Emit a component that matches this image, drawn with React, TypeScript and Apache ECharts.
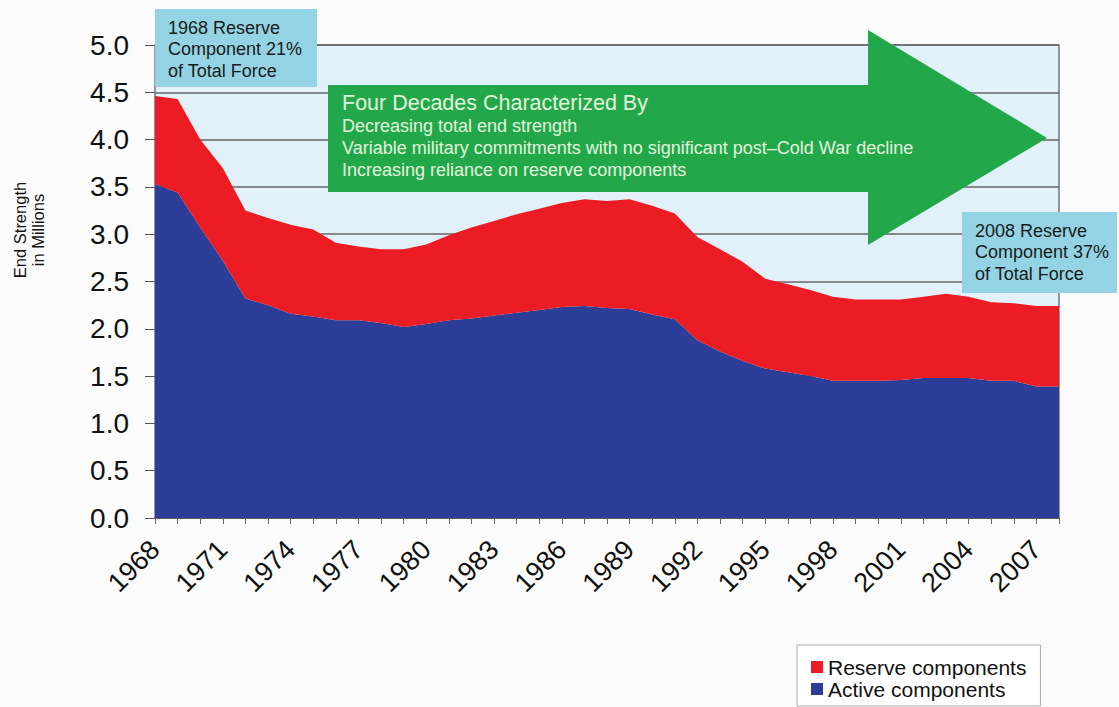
import React, { useEffect, useRef } from "react";
import * as echarts from "echarts";

const years: string[] = [];
for (let y = 1968; y <= 2008; y++) years.push(String(y));

const totalStrength = [
  4.46, 4.43, 4.0, 3.7, 3.25, 3.17, 3.1, 3.05, 2.91, 2.87,
  2.84, 2.84, 2.89, 2.99, 3.07, 3.14, 3.21, 3.27, 3.33, 3.37,
  3.35, 3.37, 3.3, 3.22, 2.97, 2.84, 2.71, 2.53, 2.47, 2.41,
  2.34, 2.31, 2.31, 2.31, 2.34, 2.37, 2.34, 2.28, 2.27, 2.24, 2.24,
];
const activeStrength = [
  3.53, 3.44, 3.07, 2.72, 2.32, 2.25, 2.16, 2.13, 2.09, 2.09,
  2.06, 2.02, 2.05, 2.09, 2.11, 2.14, 2.17, 2.2, 2.23, 2.24,
  2.22, 2.21, 2.15, 2.1, 1.88, 1.76, 1.66, 1.58, 1.54, 1.5,
  1.45, 1.45, 1.45, 1.46, 1.48, 1.48, 1.48, 1.45, 1.45, 1.39, 1.39,
];
const reserveStrength = totalStrength.map((t, i) => +(t - activeStrength[i]).toFixed(2));

const yTicks = [0, 0.5, 1, 1.5, 2, 2.5, 3, 3.5, 4, 4.5, 5];

const arrowTitle = "Four Decades Characterized By";
const arrowLines = [
  "Decreasing total end strength",
  "Variable military commitments with no significant post\u2013Cold War decline",
  "Increasing reliance on reserve components",
];
const callout1 = "1968 Reserve\nComponent 21%\nof Total Force";
const callout2 = "2008 Reserve\nComponent 37%\nof Total Force";

const FONT = "'Liberation Sans', Arial, Helvetica, sans-serif";

export default function App() {
  const ref = useRef<HTMLDivElement>(null);
  useEffect(() => {
    if (!ref.current) return;
    const chart = echarts.init(ref.current, undefined, { renderer: "svg" });
    chart.setOption({
      animation: false,
      backgroundColor: "#fbfbfb",
      textStyle: { fontFamily: FONT },
      grid: {
        left: 155,
        right: 60,
        top: 45,
        bottom: 189,
        show: true,
        backgroundColor: "#e2f1f9",
        borderColor: "#777",
        borderWidth: 1.5,
      },
      legend: {
        orient: "vertical",
        left: 797,
        top: 645,
        data: ["Reserve components", "Active components"],
        icon: "rect",
        itemWidth: 12,
        itemHeight: 12,
        itemGap: 0,
        padding: [11, 14, 6, 14],
        borderColor: "#aaa",
        borderWidth: 1,
        backgroundColor: "#fff",
        textStyle: { fontSize: 21, color: "#111", fontFamily: FONT, lineHeight: 22 },
      },
      xAxis: {
        type: "category",
        data: years,
        boundaryGap: false,
        axisLine: { show: true, lineStyle: { color: "#555", width: 1.5 } },
        axisTick: { show: true, interval: 0, length: 6, lineStyle: { color: "#666" } },
        axisLabel: {
          interval: 2,
          rotate: 45,
          fontSize: 27,
          color: "#111",
          margin: 27,
          fontFamily: FONT,
        },
      },
      yAxis: {
        type: "value",
        min: 0,
        max: 5,
        interval: 0.5,
        axisLine: { show: false },
        axisTick: { show: true, length: 10, lineStyle: { color: "#555" } },
        axisLabel: {
          fontSize: 28,
          color: "#111",
          margin: 26,
          fontFamily: FONT,
          formatter: (v: number) => (yTicks.includes(v) ? v.toFixed(1) : ""),
        },
        splitLine: { show: true, lineStyle: { color: "#666", width: 1.5 } },
      },
      series: [
        {
          name: "Active components",
          type: "line",
          stack: "total",
          data: activeStrength,
          symbol: "none",
          lineStyle: { width: 0 },
          itemStyle: { color: "#2c3e98" },
          areaStyle: { color: "#2c3e98", opacity: 1 },
        },
        {
          name: "Reserve components",
          type: "line",
          stack: "total",
          data: reserveStrength,
          symbol: "none",
          lineStyle: { width: 0 },
          itemStyle: { color: "#ec1c24" },
          areaStyle: { color: "#ec1c24", opacity: 1 },
        },
      ],
      graphic: [
        {
          type: "text",
          x: 11,
          y: 230,
          rotation: Math.PI / 2,
          style: {
            text: "End Strength\nin Millions",
            fontSize: 16.5,
            lineHeight: 18,
            fill: "#111",
            fontFamily: FONT,
            align: "center",
            verticalAlign: "top",
          },
        },
        {
          type: "polygon",
          z: 100,
          shape: {
            points: [
              [328, 85],
              [868, 85],
              [868, 30],
              [1047, 138],
              [868, 245],
              [868, 192],
              [328, 192],
            ],
          },
          style: { fill: "#22a84a" },
        },
        {
          type: "text",
          z: 101,
          x: 342,
          y: 103,
          style: {
            text: arrowTitle,
            fontSize: 21.5,
            fill: "#e3f4dd",
            fontFamily: FONT,
            verticalAlign: "middle",
          },
        },
        ...arrowLines.map((t, i) => ({
          type: "text",
          z: 101,
          x: 342,
          y: 126 + i * 22,
          style: {
            text: t,
            fontSize: 18,
            fill: "#e3f4dd",
            fontFamily: FONT,
            verticalAlign: "middle",
          },
        })),
        {
          type: "rect",
          z: 102,
          shape: { x: 155, y: 9, width: 162, height: 78 },
          style: { fill: "#93d3e4" },
        },
        {
          type: "text",
          z: 103,
          x: 168,
          y: 17,
          style: {
            text: callout1,
            fontSize: 18,
            lineHeight: 21.5,
            fill: "#1a1a1a",
            fontFamily: FONT,
          },
        },
        {
          type: "rect",
          z: 102,
          shape: { x: 962, y: 212, width: 155, height: 81 },
          style: { fill: "#93d3e4" },
        },
        {
          type: "text",
          z: 103,
          x: 975,
          y: 220,
          style: {
            text: callout2,
            fontSize: 18,
            lineHeight: 21.5,
            fill: "#1a1a1a",
            fontFamily: FONT,
          },
        },
      ],
    });
    return () => chart.dispose();
  }, []);
  return <div ref={ref} style={{ width: 1119, height: 707, position: "absolute", left: 0, top: 0 }} />;
}
